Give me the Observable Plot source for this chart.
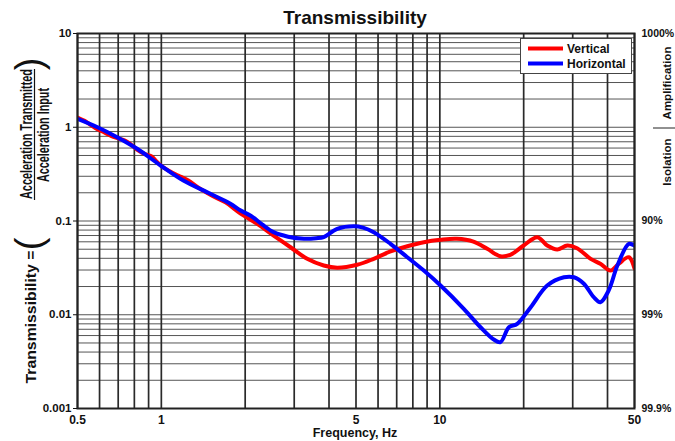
<!DOCTYPE html>
<html><head><meta charset="utf-8">
<script src="https://cdn.jsdelivr.net/npm/d3@7"></script>
<script src="https://cdn.jsdelivr.net/npm/@observablehq/plot@0.6"></script>
<style>body{margin:0;background:#fff}</style>
</head><body><div id="chart"></div>
<script>
// ---- data ----
const freqVertical = [0.5,0.53,0.56,0.59,0.62,0.66,0.70,0.74,0.78,0.82,0.87,0.92,0.97,1.02,1.08,1.15,1.25,1.35,1.5,1.7,1.92,2.21,2.53,2.91,3.34,3.83,4.28,5.05,5.79,6.65,7.64,8.76,10.06,11.5,13.2,14.8,16.5,17.9,20.0,22.4,24.3,26.4,28.7,31.1,34.8,37.7,41.0,43.9,47.7,50];
const valVertical  = [1.27,1.17,1.05,0.95,0.89,0.81,0.76,0.72,0.65,0.575,0.52,0.49,0.42,0.37,0.335,0.305,0.27,0.23,0.19,0.158,0.121,0.0933,0.070,0.0525,0.0395,0.0335,0.0317,0.0341,0.0395,0.0473,0.0538,0.0594,0.0630,0.0646,0.0604,0.0505,0.0421,0.0436,0.0548,0.0672,0.0548,0.0497,0.0548,0.0513,0.0395,0.0350,0.0296,0.0350,0.0411,0.0311];
const freqHorizontal = [0.5,0.59,0.694,0.819,0.994,1.2,1.5,1.77,1.92,2.1,2.3,2.53,2.85,3.25,3.6,3.83,4.28,4.91,5.3,5.79,6.65,7.64,8.76,10.06,12.19,14.0,15.62,16.5,17.7,18.96,21.2,24.3,27.9,30.3,32.9,35.7,37.7,40.4,43.4,47.7,50];
const valHorizontal  = [1.23,1.00,0.783,0.589,0.391,0.27,0.195,0.153,0.130,0.113,0.092,0.076,0.068,0.0646,0.0655,0.0675,0.0826,0.088,0.085,0.0759,0.0571,0.0411,0.0296,0.0205,0.01158,0.00736,0.00544,0.0051,0.00736,0.0080,0.01205,0.0205,0.0251,0.0251,0.0214,0.0154,0.0136,0.0182,0.0335,0.0571,0.0548];
const seriesNames = ["Vertical","Horizontal"];
const seriesColors = ["#ff0000","#0000ff"];
const xTicks = [0.5,1,5,10,50];
const xTickLabels = ["0.5","1","5","10","50"];
const yTicks = [0.001,0.01,0.1,1,10];
const yTickLabels = ["0.001","0.01","0.1","1","10"];
const rightTicks = [10,0.1,0.01,0.001];
const rightTickLabels = ["1000%","90%","99%","99.9%"];
const xGrid = [0.5,0.6,0.7,0.8,0.9,1,2,3,4,5,6,7,8,9,10,20,30,40,50];
const yGrid = [0.001,0.002,0.003,0.004,0.005,0.006,0.007,0.008,0.009,0.01,0.02,0.03,0.04,0.05,0.06,0.07,0.08,0.09,0.1,0.2,0.3,0.4,0.5,0.6,0.7,0.8,0.9,1,2,3,4,5,6,7,8,9,10];

const rows = [
  ...freqVertical.map((f,i)=>({f, v:valVertical[i], s:seriesNames[0]})),
  ...freqHorizontal.map((f,i)=>({f, v:valHorizontal[i], s:seriesNames[1]}))
];
const font = "'Liberation Sans', Arial, Helvetica, sans-serif";

const plot = Plot.plot({
  width:675, height:441,
  marginLeft:77, marginRight:41, marginTop:33, marginBottom:33,
  style:{fontFamily:font, fontWeight:"bold", fontSize:"11.5px", background:"#fff", color:"#111"},
  x:{type:"log", domain:[0.5,50]},
  y:{type:"log", domain:[0.001,10]},
  color:{domain:seriesNames, range:seriesColors},
  marks:[
    Plot.ruleY(yGrid,{stroke:"#555", strokeWidth:1}),
    Plot.ruleX(xGrid,{stroke:"#2a2a2a", strokeWidth:1.7}),
    Plot.line(rows,{x:"f", y:"v", stroke:"s", z:"s", strokeWidth:4, curve:"catmull-rom", clip:true}),
    Plot.frame({stroke:"#222", strokeWidth:2}),
    Plot.axisX({ticks:xTicks, tickSize:0, tickPadding:7, fontSize:12, tickFormat:d=>xTickLabels[xTicks.indexOf(d)], label:null}),
    Plot.axisY({anchor:"left", ticks:yTicks, tickSize:4, tickPadding:2, tickFormat:d=>yTickLabels[yTicks.indexOf(d)], label:null}),
    Plot.axisY({anchor:"right", ticks:rightTicks, tickSize:0, tickPadding:7, fontSize:10.5, tickFormat:d=>rightTickLabels[rightTicks.indexOf(d)], label:null})
  ]
});
document.getElementById("chart").appendChild(plot);

// ---- annotations ----
const svg = d3.select(plot);
const g = svg.append("g").attr("font-family", font).attr("font-weight","bold").attr("fill","#111").attr("text-anchor","middle");
g.append("text").attr("x",355).attr("y",24).attr("font-size",19).text("Transmissibility");
g.append("text").attr("x",355).attr("y",437).attr("font-size",12.5).text("Frequency, Hz");
// right side
g.append("text").attr("transform","translate(671,83) rotate(-90)").attr("font-size",11.5).text("Amplification");
g.append("text").attr("transform","translate(671,162) rotate(-90)").attr("font-size",11.5).text("Isolation");
g.append("line").attr("x1",653).attr("x2",675).attr("y1",128).attr("y2",128).attr("stroke","#222").attr("stroke-width",1);
// y label
g.append("text").attr("transform","translate(36,317) rotate(-90)").attr("font-size",15)
  .attr("textLength",133).attr("lengthAdjust","spacingAndGlyphs").text("Transmissibility =");
g.append("text").attr("transform","translate(42,244) rotate(-90)").attr("font-size",38).attr("font-weight","normal").text("(");
g.append("text").attr("transform","translate(42,64) rotate(-90)").attr("font-size",38).attr("font-weight","normal").text(")");
g.append("text").attr("transform","translate(32,134) rotate(-90)").attr("font-size",16)
  .attr("textLength",130).attr("lengthAdjust","spacingAndGlyphs").text("Acceleration Transmitted");
g.append("line").attr("x1",34.5).attr("x2",34.5).attr("y1",69).attr("y2",200).attr("stroke","#111").attr("stroke-width",1.2);
g.append("text").attr("transform","translate(49,135) rotate(-90)").attr("font-size",16)
  .attr("textLength",94).attr("lengthAdjust","spacingAndGlyphs").text("Acceleration Input");
// legend
const lg = svg.append("g").attr("font-family", font).attr("font-weight","bold").attr("font-size",12).attr("text-anchor","start");
lg.append("rect").attr("x",520.5).attr("y",38.5).attr("width",111).attr("height",35).attr("fill","#fff").attr("stroke","#444");
seriesNames.forEach((name,i)=>{
  const yy = 48.5 + i*15;
  lg.append("line").attr("x1",528).attr("x2",563).attr("y1",yy).attr("y2",yy).attr("stroke",seriesColors[i]).attr("stroke-width",4);
  lg.append("text").attr("x",567).attr("y",yy+4.5).attr("fill","#111").text(name);
});
</script>
</body></html>
